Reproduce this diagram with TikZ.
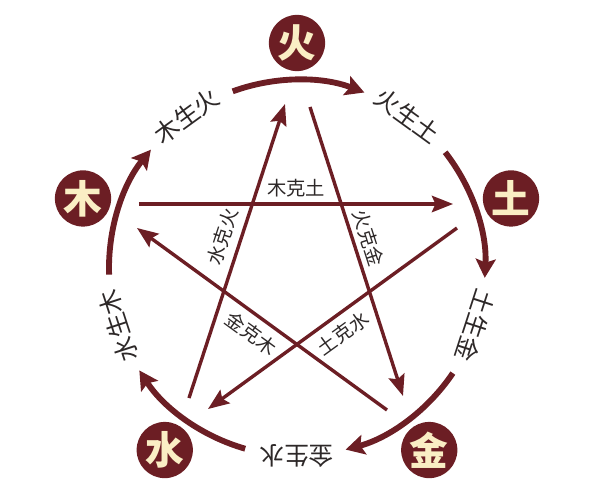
\documentclass[tikz,border=0pt]{standalone}
\usepackage{fontspec}
\usepackage{xcolor}
\usepackage{tikz}
\usetikzlibrary{arrows.meta, positioning}
\newfontfamily\cjk{Noto Sans CJK SC}
\definecolor{wxred}{RGB}{108,30,36}
\definecolor{wxcream}{RGB}{250,238,196}
\definecolor{wxtext}{RGB}{45,40,40}

\begin{document}
\begin{tikzpicture}[x=0.03cm,y=0.03cm,
    element/.style={circle,fill=wxred,text=wxcream,minimum size=48pt,inner sep=0pt,
      font=\cjk\bfseries\fontsize{33pt}{33pt}\selectfont},
    sheng/.style={draw=wxred,line width=5pt,-{Stealth[length=16pt,width=17pt,inset=3pt]}},
    ke/.style={draw=wxred,line width=2.9pt,-{Stealth[length=18pt,width=14pt,inset=3pt]}},
    shenglabel/.style={text=wxtext,font=\cjk\fontsize{21pt}{21pt}\selectfont},
    kelabel/.style={text=wxtext,font=\cjk\fontsize{16.5pt}{16.5pt}\selectfont}]
  \useasboundingbox (-297,-235) rectangle (303,268);
  % elements and the generating cycle
  \foreach \ang/\nm/\cur/\nxt in {90/huo/火/土, 18/tu/土/金, -54/jin/金/水, -126/shui/水/木, 162/mu/木/火} {
    \node[element] (\nm) at (\ang:225) {\cur};
    \draw[sheng] (\ang+20:188) arc[start angle=\ang+20, end angle=\ang-21, radius=188];
    \node[shenglabel,rotate=\ang-126] at (\ang-36:188) {\cur 生\nxt};
  }
  % ends of the star lines
  \coordinate (mu1) at (-158,64);
  \coordinate (tu2) at (156,64);
  \coordinate (huo1) at (13,161);
  \coordinate (jin2) at (106,-128);
  \coordinate (jin1) at (90,-142);
  \coordinate (mu2) at (-160,40);
  \coordinate (shui1) at (-108,-130);
  \coordinate (huo2) at (-12,164);
  \coordinate (tu1) at (160,40);
  \coordinate (shui2) at (-89,-141);
  % controlling cycle
  \draw[ke] (mu1) -- node[kelabel,above=1pt] {木克土} (tu2);
  \draw[ke] (shui1) -- node[kelabel,sloped,above=3pt,pos=0.53] {水克火} (huo2);
  \draw[ke] (huo1) -- node[kelabel,sloped,above=1pt,pos=0.47] {火克金} (jin2);
  \draw[ke] (jin1) -- node[kelabel,sloped,below=3pt] {金克木} (mu2);
  \draw[ke] (tu1) -- node[kelabel,sloped,below=3pt] {土克水} (shui2);
\end{tikzpicture}
\end{document}
